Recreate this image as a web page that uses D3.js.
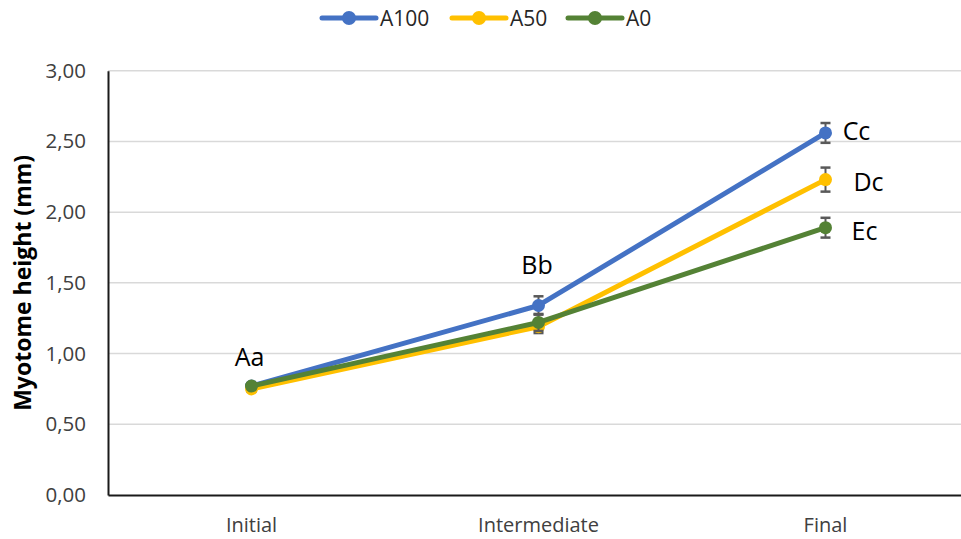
<!DOCTYPE html>
<html>
<head>
<meta charset="utf-8">
<script src="https://cdn.jsdelivr.net/npm/d3@7"></script>
<style>
  html, body { margin: 0; padding: 0; background: #fff; }
  svg { display: block; }
</style>
</head>
<body>
<svg id="chart" width="961" height="539"></svg>
<script>
// Sampling stages along the x axis
const stages = ["Initial", "Intermediate", "Final"];

// Mean myotome height (mm) per treatment
const seriesNames = ["A100", "A50", "A0"];
const a100 = [0.77, 1.34, 2.56];
const a50 = [0.75, 1.19, 2.23];
const a0 = [0.77, 1.22, 1.89];

// Standard error (mm) per treatment
const a100Err = [0.02, 0.065, 0.07];
const a50Err = [0.02, 0.045, 0.085];
const a0Err = [0.02, 0.06, 0.07];

// Significance letters placed near each stage
const letters = ["Aa", "Bb", "Cc", "Dc", "Ec"];

// Y-axis tick values
const yTicks = [0, 0.5, 1, 1.5, 2, 2.5, 3];

const colors = { A100: "#4472C4", A50: "#FFC000", A0: "#548235" };

const series = [
  { name: "A100", values: a100, err: a100Err },
  { name: "A50", values: a50, err: a50Err },
  { name: "A0", values: a0, err: a0Err }
];

const svg = d3.select("#chart");
const plotLeft = 108, plotRight = 969, plotTop = 70.7, plotBottom = 495;
const font = "'Open Sans', 'Liberation Sans', sans-serif";

const x = d3.scaleBand().domain(stages).range([plotLeft, plotRight]).padding(0);
const cx = s => x(s) + x.bandwidth() / 2;
const y = d3.scaleLinear().domain([0, 3]).range([plotBottom, plotTop]);

const fmt = v => d3.format(".2f")(v).replace(".", ",");

// Horizontal gridlines
svg.append("g")
  .selectAll("line")
  .data(yTicks.filter(t => t > 0))
  .join("line")
  .attr("x1", plotLeft).attr("x2", plotRight)
  .attr("y1", d => y(d)).attr("y2", d => y(d))
  .attr("stroke", "#d9d9d9").attr("stroke-width", 1.5);

// Y axis
const yAxis = svg.append("g")
  .attr("transform", `translate(${plotLeft},0)`)
  .call(d3.axisLeft(y).tickValues(yTicks).tickFormat(fmt).tickSize(0).tickPadding(22));
yAxis.select(".domain").attr("stroke", "#1a1a1a").attr("stroke-width", 2);
yAxis.selectAll("text")
  .attr("font-family", font)
  .attr("font-size", 20.5).attr("fill", "#404040");

// X axis
const xAxis = svg.append("g")
  .attr("transform", `translate(0,${plotBottom})`)
  .call(d3.axisBottom(x).tickSize(0).tickPadding(23));
xAxis.select(".domain").attr("stroke", "#1a1a1a").attr("stroke-width", 2);
xAxis.selectAll("text")
  .attr("font-family", font)
  .attr("font-size", 20).attr("fill", "#404040");

// Y-axis title
svg.append("text")
  .attr("transform", `translate(22,${(plotTop + plotBottom) / 2}) rotate(-90)`)
  .attr("text-anchor", "middle")
  .attr("dominant-baseline", "central")
  .attr("font-family", font)
  .attr("font-weight", "bold").attr("font-size", 23)
  .attr("fill", "#000")
  .text("Myotome height (mm)");

const line = d3.line().x((d, i) => cx(stages[i])).y(d => y(d));

// Lines, error bars and markers for each series
series.forEach(s => {
  const g = svg.append("g");
  g.append("path")
    .datum(s.values)
    .attr("d", line)
    .attr("fill", "none")
    .attr("stroke", colors[s.name])
    .attr("stroke-width", 5)
    .attr("stroke-linejoin", "round");

  const eb = g.append("g");
  s.values.forEach((v, i) => {
    const px = cx(stages[i]);
    const e = s.err[i];
    eb.append("line").attr("x1", px).attr("x2", px)
      .attr("y1", y(v - e)).attr("y2", y(v + e))
      .attr("stroke", "#595959").attr("stroke-width", 2);
    [v - e, v + e].forEach(t => {
      eb.append("line").attr("x1", px - 5).attr("x2", px + 5)
        .attr("y1", y(t)).attr("y2", y(t))
        .attr("stroke", "#595959").attr("stroke-width", 2.5);
    });
  });

  g.selectAll("circle")
    .data(s.values)
    .join("circle")
    .attr("cx", (d, i) => cx(stages[i]))
    .attr("cy", d => y(d))
    .attr("r", 6.5)
    .attr("fill", colors[s.name]);
});

// Significance letters
const letterPos = [
  { t: letters[0], x: cx(stages[0]) - 2, y: y(a0[0]) - 30 },
  { t: letters[1], x: cx(stages[1]) - 1.5, y: y(a100[1]) - 41 },
  { t: letters[2], x: cx(stages[2]) + 31, y: y(a100[2]) - 3 },
  { t: letters[3], x: cx(stages[2]) + 43, y: y(a50[2]) + 1.5 },
  { t: letters[4], x: cx(stages[2]) + 39, y: y(a0[2]) + 2 }
];
svg.append("g").selectAll("text")
  .data(letterPos)
  .join("text")
  .attr("x", d => d.x).attr("y", d => d.y)
  .attr("text-anchor", "middle").attr("dominant-baseline", "central")
  .attr("font-family", font).attr("font-size", 25).attr("fill", "#000")
  .text(d => d.t);

// Legend
const legendItems = [
  { name: seriesNames[0], x: 322 },
  { name: seriesNames[1], x: 452 },
  { name: seriesNames[2], x: 568 }
];
const lg = svg.append("g");
legendItems.forEach(it => {
  lg.append("line").attr("x1", it.x).attr("x2", it.x + 54)
    .attr("y1", 18).attr("y2", 18)
    .attr("stroke", colors[it.name]).attr("stroke-width", 5).attr("stroke-linecap", "round");
  lg.append("circle").attr("cx", it.x + 27).attr("cy", 18).attr("r", 7).attr("fill", colors[it.name]);
  lg.append("text").attr("x", it.x + 58).attr("y", 18)
    .attr("dominant-baseline", "central")
    .attr("font-family", font)
    .attr("font-size", 21).attr("fill", "#262626")
    .text(it.name);
});
</script>
</body>
</html>
